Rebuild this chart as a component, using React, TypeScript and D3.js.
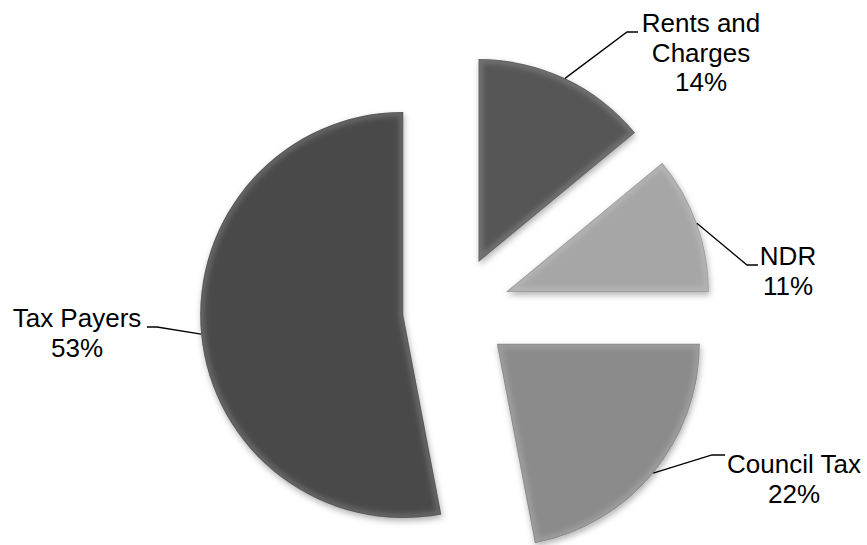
import React from 'react';
import * as d3 from 'd3';

const categories = ['Rents and Charges', 'NDR', 'Council Tax', 'Tax Payers'];
const values = [14, 11, 22, 53];
const labelLines = [
  ['Rents and', 'Charges', '14%'],
  ['NDR', '11%'],
  ['Council Tax', '22%'],
  ['Tax Payers', '53%'],
];
const colors = ['#575757', '#a6a6a6', '#8b8b8b', '#484848'];

const W = 867;
const H = 545;
const CX = 456;
const CY = 310;
const R = 203;
const EXPLODE = 53;
const FONT = 26;
const LINE_H = 29.5;

// label layout: text centre x, first baseline y, elbow point of leader, end of horizontal leader
const labelLayout = [
  { x: 701, y: 32, elbow: [627, 32], end: 638 },
  { x: 788, y: 265, elbow: [747, 265], end: 758 },
  { x: 794, y: 473, elbow: [712, 455], end: 725 },
  { x: 77, y: 327, elbow: [157, 327], end: 147 },
];

export default function App() {
  const pie = d3
    .pie<number>()
    .sort(null)
    .value((d) => d)
    .startAngle(0)
    .endAngle(2 * Math.PI);
  const arcs = pie(values);
  const arc = d3.arc<d3.PieArcDatum<number>>().innerRadius(0).outerRadius(R);

  return (
    <svg
      width={W}
      height={H}
      style={{ position: 'fixed', left: 0, top: 0, background: '#fff' }}
      fontFamily="'Liberation Sans', Arial, sans-serif"
    >
      <defs>
        <filter id="shadow" x="-20%" y="-20%" width="140%" height="140%">
          <feDropShadow dx="1" dy="3" stdDeviation="3" floodColor="#000" floodOpacity="0.3" />
        </filter>
        <filter id="soft" x="-10%" y="-10%" width="120%" height="120%">
          <feGaussianBlur stdDeviation="2.5" />
        </filter>
        {arcs.map((a, i) => (
          <clipPath id={`clip${i}`} key={i}>
            <path d={arc(a) || ''} />
          </clipPath>
        ))}
      </defs>
      {arcs.map((a, i) => {
        const mid = (a.startAngle + a.endAngle) / 2;
        const ox = CX + Math.sin(mid) * EXPLODE;
        const oy = CY - Math.cos(mid) * EXPLODE;
        const d = arc(a) || '';
        return (
          <g key={categories[i]} transform={`translate(${ox},${oy})`}>
            <path d={d} fill={colors[i]} filter="url(#shadow)" />
            <g clipPath={`url(#clip${i})`}>
              <path
                d={d}
                fill="none"
                stroke="#ffffff"
                strokeOpacity={0.16}
                strokeWidth={9}
                strokeLinejoin="round"
                filter="url(#soft)"
              />
              <path
                d={d}
                fill="none"
                stroke="#000000"
                strokeOpacity={0.1}
                strokeWidth={2}
                strokeLinejoin="round"
              />
            </g>
          </g>
        );
      })}
      {arcs.map((a, i) => {
        const mid = (a.startAngle + a.endAngle) / 2;
        const ox = CX + Math.sin(mid) * EXPLODE;
        const oy = CY - Math.cos(mid) * EXPLODE;
        const sx = ox + Math.sin(mid) * R;
        const sy = oy - Math.cos(mid) * R;
        const L = labelLayout[i];
        return (
          <g key={`lab${i}`}>
            <polyline
              points={`${sx},${sy} ${L.elbow[0]},${L.elbow[1]} ${L.end},${L.elbow[1]}`}
              fill="none"
              stroke="#000"
              strokeWidth={1.3}
            />
            <text textAnchor="middle" fontSize={FONT} fill="#000">
              {labelLines[i].map((t, j) => (
                <tspan key={j} x={L.x} y={L.y + j * LINE_H}>
                  {t}
                </tspan>
              ))}
            </text>
          </g>
        );
      })}
    </svg>
  );
}
